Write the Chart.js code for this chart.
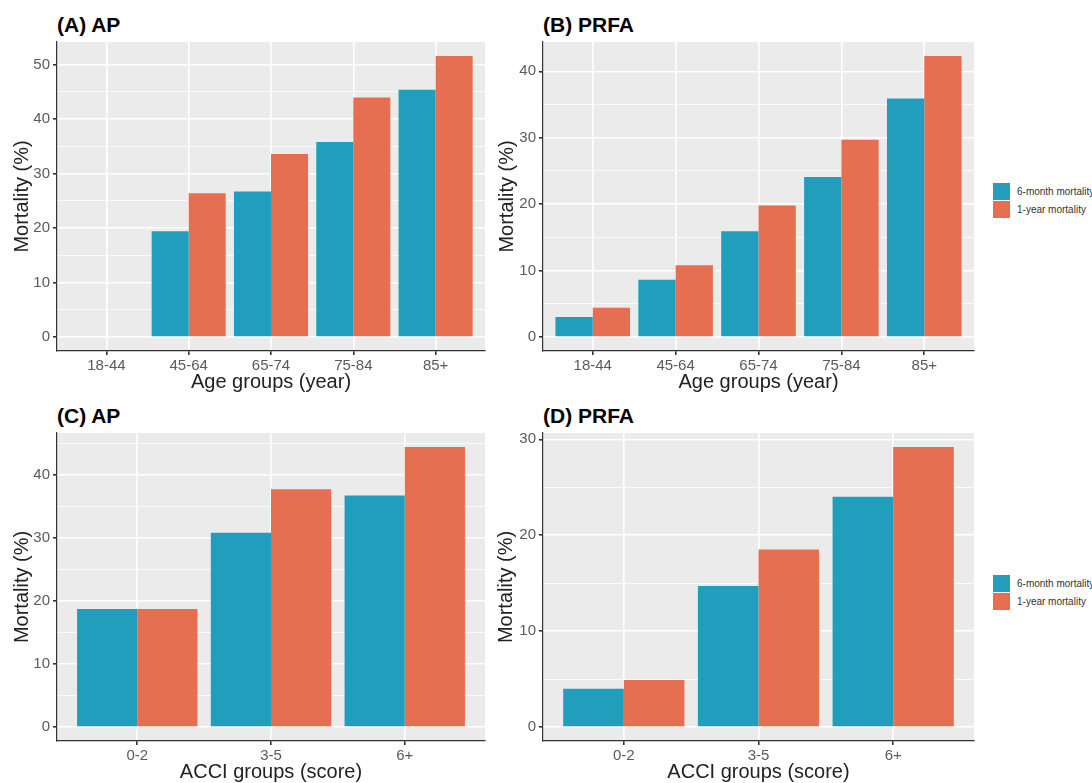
<!DOCTYPE html>
<html>
<head>
<meta charset="utf-8">
<script src="https://cdn.jsdelivr.net/npm/chart.js@4.4.1/dist/chart.umd.min.js"></script>
<style>
  body { margin: 0; background: #fff; font-family: "Liberation Sans", Arial, sans-serif; }
  #page { position: relative; width: 1092px; height: 783px; overflow: hidden; }
  .panel { position: absolute; }
  .ptitle { position: absolute; font-size: 21px; font-weight: bold; line-height: 21px; color: #000; white-space: nowrap; }
  .legend { position: absolute; font-size: 10px; color: #333; white-space: nowrap; }
  .legend .row { display: flex; align-items: center; height: 18px; }
  .legend .key { width: 17px; height: 17px; margin-right: 7px; flex: none; }
</style>
</head>
<body>
<div id="page">
  <div class="ptitle" style="left:57px;top:14px">(A) AP</div>
  <div class="ptitle" style="left:543px;top:14px">(B) PRFA</div>
  <div class="ptitle" style="left:57px;top:405px">(C) AP</div>
  <div class="ptitle" style="left:543px;top:405px">(D) PRFA</div>

  <div class="panel" style="left:0;top:0;width:490px;height:392px"><canvas id="chartA"></canvas></div>
  <div class="panel" style="left:480px;top:0;width:500px;height:392px"><canvas id="chartB"></canvas></div>
  <div class="panel" style="left:0;top:390px;width:490px;height:392px"><canvas id="chartC"></canvas></div>
  <div class="panel" style="left:480px;top:390px;width:500px;height:392px"><canvas id="chartD"></canvas></div>

  <div class="legend" id="legendB" style="left:993px;top:182px"></div>
  <div class="legend" id="legendD" style="left:993px;top:574px"></div>
</div>

<script>
const ageGroups = ['18-44', '45-64', '65-74', '75-84', '85+'];
const acciGroups = ['0-2', '3-5', '6+'];

const seriesLabels = ['6-month mortality', '1-year mortality'];
const seriesColors = ['#219ebc', '#e76f51'];

// (A) AP by age
const apAge6m = [null, 19.4, 26.7, 35.8, 45.4];
const apAge1y = [null, 26.4, 33.6, 44.0, 51.6];
// (B) PRFA by age
const prfaAge6m = [3.0, 8.6, 15.9, 24.1, 35.9];
const prfaAge1y = [4.4, 10.8, 19.8, 29.7, 42.3];
// (C) AP by ACCI
const apAcci6m = [18.7, 30.8, 36.7];
const apAcci1y = [18.7, 37.7, 44.4];
// (D) PRFA by ACCI
const prfaAcci6m = [4.0, 14.7, 24.0];
const prfaAcci1y = [4.9, 18.5, 29.2];

const panelBg = {
    id: 'panelBg',
    beforeDraw(chart) {
        const {ctx, chartArea: a} = chart;
        ctx.save();
        ctx.fillStyle = '#ebebeb';
        ctx.fillRect(a.left, a.top, a.right - a.left, a.bottom - a.top);
        ctx.restore();
    }
};

function makeChart(id, cats, s6m, s1y, xTitle, lay) {
    const top = Math.max(...s6m.filter(v => v !== null), ...s1y.filter(v => v !== null));
    const toPts = arr => arr.map((v, i) => ({x: i, y: v}));

    return new Chart(document.getElementById(id), {
        type: 'bar',
        data: {
            datasets: [
                { label: seriesLabels[0], data: toPts(s6m), backgroundColor: seriesColors[0] },
                { label: seriesLabels[1], data: toPts(s1y), backgroundColor: seriesColors[1] }
            ]
        },
        options: {
            responsive: true,
            maintainAspectRatio: false,
            animation: false,
            layout: { padding: { top: lay.top, right: lay.right, bottom: 0, left: lay.left } },
            datasets: { bar: { categoryPercentage: 0.9, barPercentage: 1.0, borderWidth: 0 } },
            plugins: { legend: { display: false }, tooltip: { enabled: false } },
            scales: {
                x: {
                    type: 'linear',
                    offset: false,
                    min: -0.6,
                    max: cats.length - 0.4,
                    afterFit: s => { s.height = 41; },
                    grid: { offset: false, color: '#ffffff', lineWidth: 1.6, tickLength: 4, tickColor: '#333' },
                    border: { display: true, color: '#333', width: 1.2 },
                    ticks: {
                        stepSize: 1, includeBounds: false, autoSkip: false, maxRotation: 0, padding: 2,
                        color: '#5a5a5a', font: { family: 'Liberation Sans', size: 15 },
                        callback: v => cats[v] ?? ''
                    },
                    title: {
                        display: true, text: xTitle, color: '#222', padding: 0,
                        font: { family: 'Liberation Sans', size: 20, lineHeight: 1 }
                    }
                },
                y: {
                    min: -top * 0.05,
                    max: top * 1.05,
                    afterFit: s => { s.width = lay.yw; },
                    grid: {
                        color: '#ffffff',
                        lineWidth: c => (c.tick && c.tick.value % 10 === 0) ? 1.6 : 0.8,
                        tickLength: 4,
                        tickColor: c => (c.tick && c.tick.value % 10 === 0) ? '#333' : 'rgba(0,0,0,0)'
                    },
                    border: { display: true, color: '#333', width: 1.2 },
                    ticks: {
                        stepSize: 5, includeBounds: false, padding: 3,
                        color: '#5a5a5a', font: { family: 'Liberation Sans', size: 15 },
                        callback: v => v % 10 === 0 ? v : ''
                    },
                    title: {
                        display: true, text: 'Mortality (%)', color: '#222', padding: 0,
                        font: { family: 'Liberation Sans', size: 20, lineHeight: 1 }
                    }
                }
            }
        },
        plugins: [panelBg]
    });
}

makeChart('chartA', ageGroups, apAge6m, apAge1y, 'Age groups (year)', { top: 42, right: 5, left: 12.5, yw: 44.5 });
makeChart('chartB', ageGroups, prfaAge6m, prfaAge1y, 'Age groups (year)', { top: 42, right: 6, left: 17.5, yw: 45.5 });
makeChart('chartC', acciGroups, apAcci6m, apAcci1y, 'ACCI groups (score)', { top: 43, right: 5, left: 12.5, yw: 44.5 });
makeChart('chartD', acciGroups, prfaAcci6m, prfaAcci1y, 'ACCI groups (score)', { top: 43, right: 6, left: 16.5, yw: 46.5 });

function buildLegend(id) {
    const box = document.getElementById(id);
    seriesLabels.forEach((lbl, i) => {
        const row = document.createElement('div');
        row.className = 'row';
        const key = document.createElement('div');
        key.className = 'key';
        key.style.background = seriesColors[i];
        const txt = document.createElement('span');
        txt.textContent = lbl;
        row.appendChild(key);
        row.appendChild(txt);
        box.appendChild(row);
    });
}
buildLegend('legendB');
buildLegend('legendD');
</script>
</body>
</html>
